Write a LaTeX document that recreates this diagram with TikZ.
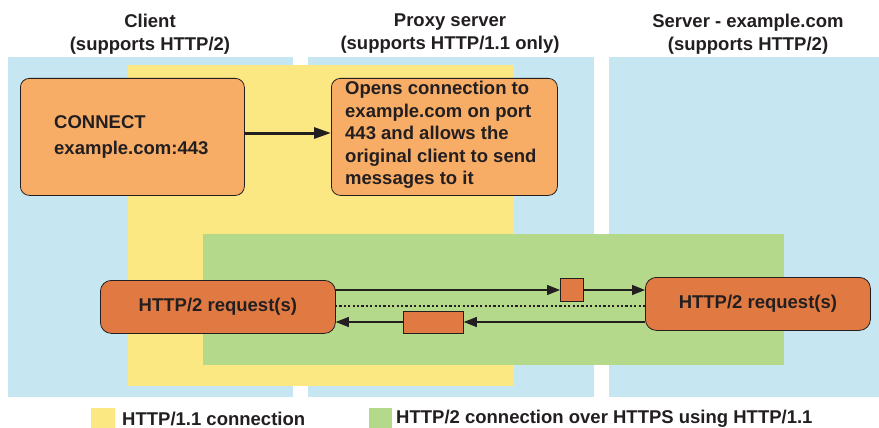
\documentclass[tikz,border=0pt]{standalone}
\usepackage{fontspec}
\setmainfont{Liberation Sans}
\usetikzlibrary{arrows.meta}
\definecolor{pblue}{HTML}{C6E7F1}
\definecolor{pyellow}{HTML}{FBE882}
\definecolor{pgreen}{HTML}{B5D98A}
\definecolor{lorange}{HTML}{F8AD66}
\definecolor{dorange}{HTML}{E07A42}
\definecolor{ink}{HTML}{231F20}
\tikzset{
  panel/.style={fill=pblue, draw=none},
  hdr/.style={font=\fontsize{18.5}{23}\selectfont\bfseries, align=center, text=ink},
  lbox/.style={draw=ink, line width=0.8pt, fill=lorange, rounded corners=9pt, font=\fontsize{18.5}{22.5}\selectfont\bfseries, align=left, text=ink},
  dbox/.style={draw=ink, line width=0.8pt, fill=dorange, rounded corners=11pt, font=\fontsize{18.5}{20}\selectfont\bfseries, text=ink},
  pkt/.style={draw=ink, line width=0.8pt, fill=dorange},
  arr/.style={draw=ink, line width=1.2pt, -{Triangle[length=13pt,width=10pt]}},
  legtxt/.style={font=\fontsize{18.5}{20}\selectfont\bfseries, anchor=west, text=ink, inner sep=0pt},
}
\begin{document}
\begin{tikzpicture}[x=1pt,y=-1pt]
\useasboundingbox (0,0) rectangle (879,428);
% panels
\fill[panel] (8,57) rectangle (293,397);
\fill[panel] (308,57) rectangle (594,397);
\fill[panel] (609,57) rectangle (879,397);
\fill[pyellow] (128,65) rectangle (514,386);
\fill[pgreen] (203,234) rectangle (784,365);
% headers
\node[hdr] (h1) at (150,34) {Client\\(supports HTTP/2)};
\node[hdr] (h2) at (450,34) {Proxy server\\(supports HTTP/1.1 only)};
\node[hdr] (h3) at (748,34) {Server - example.com\\(supports HTTP/2)};
% top boxes
\node[lbox, minimum width=224pt, minimum height=117pt, anchor=north west] (c) at (20,78) {};
\node[font=\fontsize{18.5}{26}\selectfont\bfseries, align=left, text=ink, anchor=west, inner sep=0pt] (ct) at (54,137) {CONNECT\\example.com:443};
\node[lbox, minimum width=226pt, minimum height=117pt, anchor=north west] (p) at (331,78) {};
\node[font=\fontsize{18.5}{22.5}\selectfont\bfseries, align=left, text=ink, anchor=west, inner sep=0pt] (pt) at (345,135) {Opens connection to\\example.com on port\\443 and allows the\\original client to send\\messages to it};
\draw[ink, line width=3pt, -{Triangle[length=17pt,width=11pt]}] (c.east |- 0,133) -- (p.west |- 0,133);
% request boxes
\node[dbox, minimum width=235pt, minimum height=53pt, anchor=north west] (l) at (100,280) {HTTP/2 request(s)};
\node[dbox, minimum width=225pt, minimum height=53pt, anchor=north west] (r) at (645,277) {HTTP/2 request(s)};
\node[pkt, minimum width=23pt, minimum height=23pt, inner sep=0pt, anchor=north west] (k1) at (560,278) {};
\node[pkt, minimum width=60pt, minimum height=22pt, inner sep=0pt, anchor=north west] (k2) at (403,311) {};
\coordinate (a1) at (335,290);
\draw[arr] (a1) -- (k1.west |- a1);
\draw[arr] (k1.east |- a1) -- (r.west |- a1);
\draw[ink, line width=1.3pt, dash pattern=on 2.2pt off 2.2pt] (335,306) coordinate (d1) -- (d1 -| r.west);
\coordinate (b1) at (645,322);
\draw[arr] (b1) -- (k2.east |- b1);
\draw[arr] (k2.west |- b1) -- (l.east |- b1);
% legend
\fill[pyellow] (91,408) rectangle (115,428);
\node[legtxt] (t1) at (122,419) {HTTP/1.1 connection};
\fill[pgreen] (369,408) rectangle (392,428);
\node[legtxt] (t2) at (396,419) {HTTP/2 connection over HTTPS using HTTP/1.1};
\end{tikzpicture}
\end{document}
